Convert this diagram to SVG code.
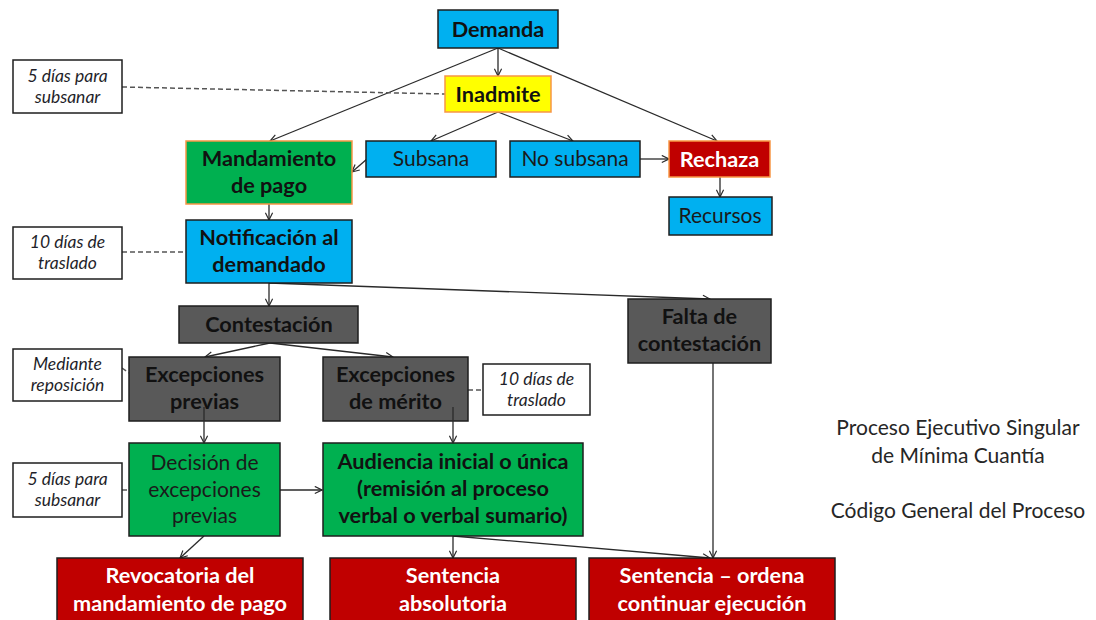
<svg xmlns="http://www.w3.org/2000/svg" width="1096" height="620" viewBox="0 0 1096 620">
<defs>
<style>
text{font-family:Lato,"Open Sans","Liberation Sans",sans-serif;text-anchor:middle}
.b{font-weight:700;font-size:21.7px;fill:#111}
.r{font-size:21px;fill:#1a1a1a}
.w{font-weight:700;font-size:21.7px;fill:#fff}
.n{font-style:italic;font-size:17.5px;fill:#1f1f2a}
.t{font-size:21px;fill:#262626}
.box{stroke:#1e1e1e;stroke-width:1.5}
.org{stroke:#F79646;stroke-width:1.5}
.blue{fill:#00B0F0}.green{fill:#00B050}.yel{fill:#FFFF00}.red{fill:#C00000}.grey{fill:#595959}.note{fill:#fff}
.c{stroke:#2a2a2a;stroke-width:1.3;fill:none;marker-end:url(#ah)}
.d{stroke:#555;stroke-width:1.5;fill:none;stroke-dasharray:5 3}
</style>
<marker id="ah" viewBox="0 0 10 10" refX="9" refY="5" markerWidth="9" markerHeight="9" markerUnits="userSpaceOnUse" orient="auto">
<path d="M1,1 L9,5 L1,9" fill="none" stroke="#2a2a2a" stroke-width="1.3"/>
</marker>
</defs>
<rect width="1096" height="620" fill="#fff"/>

<g id="connectors">
<line class="c" x1="498" y1="48" x2="498" y2="76"/>
<line class="c" x1="498" y1="48" x2="270" y2="141"/>
<line class="c" x1="498" y1="48" x2="717" y2="141"/>
<line class="c" x1="498" y1="112" x2="431" y2="141"/>
<line class="c" x1="498" y1="112" x2="573" y2="141"/>
<line class="c" x1="367" y1="159" x2="352" y2="172"/>
<line class="c" x1="640" y1="159" x2="669" y2="159"/>
<line class="c" x1="720" y1="177" x2="720" y2="197"/>
<line class="c" x1="269" y1="204" x2="269" y2="220"/>
<line class="c" x1="269" y1="283" x2="269" y2="306"/>
<line class="c" x1="269" y1="283" x2="710" y2="299"/>
<line class="c" x1="270" y1="343" x2="205" y2="357"/>
<line class="c" x1="270" y1="343" x2="393" y2="357"/>
<line class="c" x1="280" y1="490" x2="322" y2="490"/>
<line class="c" x1="204" y1="536" x2="180" y2="558"/>
<line class="c" x1="453" y1="536" x2="453" y2="558"/>
<line class="c" x1="453" y1="536" x2="710" y2="558"/>
<line class="c" x1="713" y1="363" x2="713" y2="558"/>
<line class="d" x1="122" y1="87" x2="445" y2="94"/>
<line class="d" x1="122" y1="252" x2="186" y2="252"/>
<line class="d" x1="122" y1="368" x2="129" y2="373"/>
<line class="d" x1="468" y1="390" x2="483" y2="390"/>
<line class="d" x1="122" y1="490" x2="129" y2="490"/>
</g>

<g id="demanda"><rect class="box blue" x="438" y="10" width="120" height="38"/><text class="b" x="498" y="37">Demanda</text></g>
<g id="inadmite"><rect class="org yel" x="445" y="76" width="106" height="36"/><text class="b" x="498" y="102">Inadmite</text></g>
<g id="mandamiento"><rect class="org green" x="186" y="141" width="166" height="63"/><text class="b" x="269" y="166">Mandamiento</text><text class="b" x="269" y="193">de pago</text></g>
<g id="subsana"><rect class="box blue" x="366" y="141" width="130" height="36"/><text class="r" x="431" y="166">Subsana</text></g>
<g id="nosubsana"><rect class="box blue" x="510" y="141" width="130" height="36"/><text class="r" x="575" y="166">No subsana</text></g>
<g id="rechaza"><rect class="org red" x="669" y="141" width="101" height="36"/><text class="w" x="719.5" y="167">Rechaza</text></g>
<g id="recursos"><rect class="box blue" x="669" y="197" width="103" height="38"/><text class="r" x="720" y="223">Recursos</text></g>
<g id="notificacion"><rect class="box blue" x="186" y="220" width="166" height="63"/><text class="b" x="269" y="245">Notificación al</text><text class="b" x="269" y="272">demandado</text></g>
<g id="contestacion"><rect class="box grey" x="179" y="306" width="179" height="37"/><text class="b" x="269" y="332">Contestación</text></g>
<g id="falta"><rect class="box grey" x="628" y="299" width="143" height="64"/><text class="b" x="699.5" y="324">Falta de</text><text class="b" x="699.5" y="351">contestación</text></g>
<g id="excprevias"><rect class="box grey" x="129" y="357" width="151" height="64"/><text class="b" x="204.5" y="382">Excepciones</text><text class="b" x="204.5" y="409">previas</text></g>
<g id="excmerito"><rect class="box grey" x="323" y="357" width="145" height="64"/><text class="b" x="395.5" y="382">Excepciones</text><text class="b" x="395.5" y="409">de mérito</text></g>
<g id="decision"><rect class="box green" x="129" y="443" width="151" height="93"/><text class="r" x="204.5" y="470">Decisión de</text><text class="r" x="204.5" y="497">excepciones</text><text class="r" x="204.5" y="523">previas</text></g>
<g id="audiencia"><rect class="box green" x="323" y="443" width="260" height="93"/><text class="b" x="453" y="469">Audiencia inicial o única</text><text class="b" x="453" y="496">(remisión al proceso</text><text class="b" x="453" y="523">verbal o verbal sumario)</text></g>
<g id="revocatoria"><rect class="box red" x="57" y="558" width="246" height="66"/><text class="w" x="180" y="583">Revocatoria del</text><text class="w" x="180" y="611">mandamiento de pago</text></g>
<g id="absolutoria"><rect class="box red" x="330" y="558" width="246" height="66"/><text class="w" x="453" y="583">Sentencia</text><text class="w" x="453" y="611">absolutoria</text></g>
<g id="ordena"><rect class="box red" x="589" y="558" width="246" height="66"/><text class="w" x="712" y="583">Sentencia – ordena</text><text class="w" x="712" y="611">continuar ejecución</text></g>

<g id="exc-edges">
<line class="c" x1="204" y1="407" x2="204" y2="443"/>
<line class="c" x1="453" y1="407" x2="453" y2="443"/>
</g>

<g id="nota1"><rect class="box note" x="13" y="60" width="109" height="53"/><text class="n" x="67.5" y="82">5 días para</text><text class="n" x="67.5" y="103">subsanar</text></g>
<g id="nota2"><rect class="box note" x="13" y="227" width="109" height="52"/><text class="n" x="67.5" y="248">10 días de</text><text class="n" x="67.5" y="269">traslado</text></g>
<g id="nota3"><rect class="box note" x="13" y="349" width="109" height="52"/><text class="n" x="67.5" y="370">Mediante</text><text class="n" x="67.5" y="391">reposición</text></g>
<g id="nota4"><rect class="box note" x="483" y="364" width="107" height="51"/><text class="n" x="536.5" y="385">10 días de</text><text class="n" x="536.5" y="406">traslado</text></g>
<g id="nota5"><rect class="box note" x="13" y="463" width="109" height="54"/><text class="n" x="67.5" y="485">5 días para</text><text class="n" x="67.5" y="506">subsanar</text></g>

<g id="titulo"><text class="t" x="958" y="435">Proceso Ejecutivo Singular</text><text class="t" x="958" y="463">de Mínima Cuantía</text><text class="t" x="958" y="518">Código General del Proceso</text></g>
</svg>
